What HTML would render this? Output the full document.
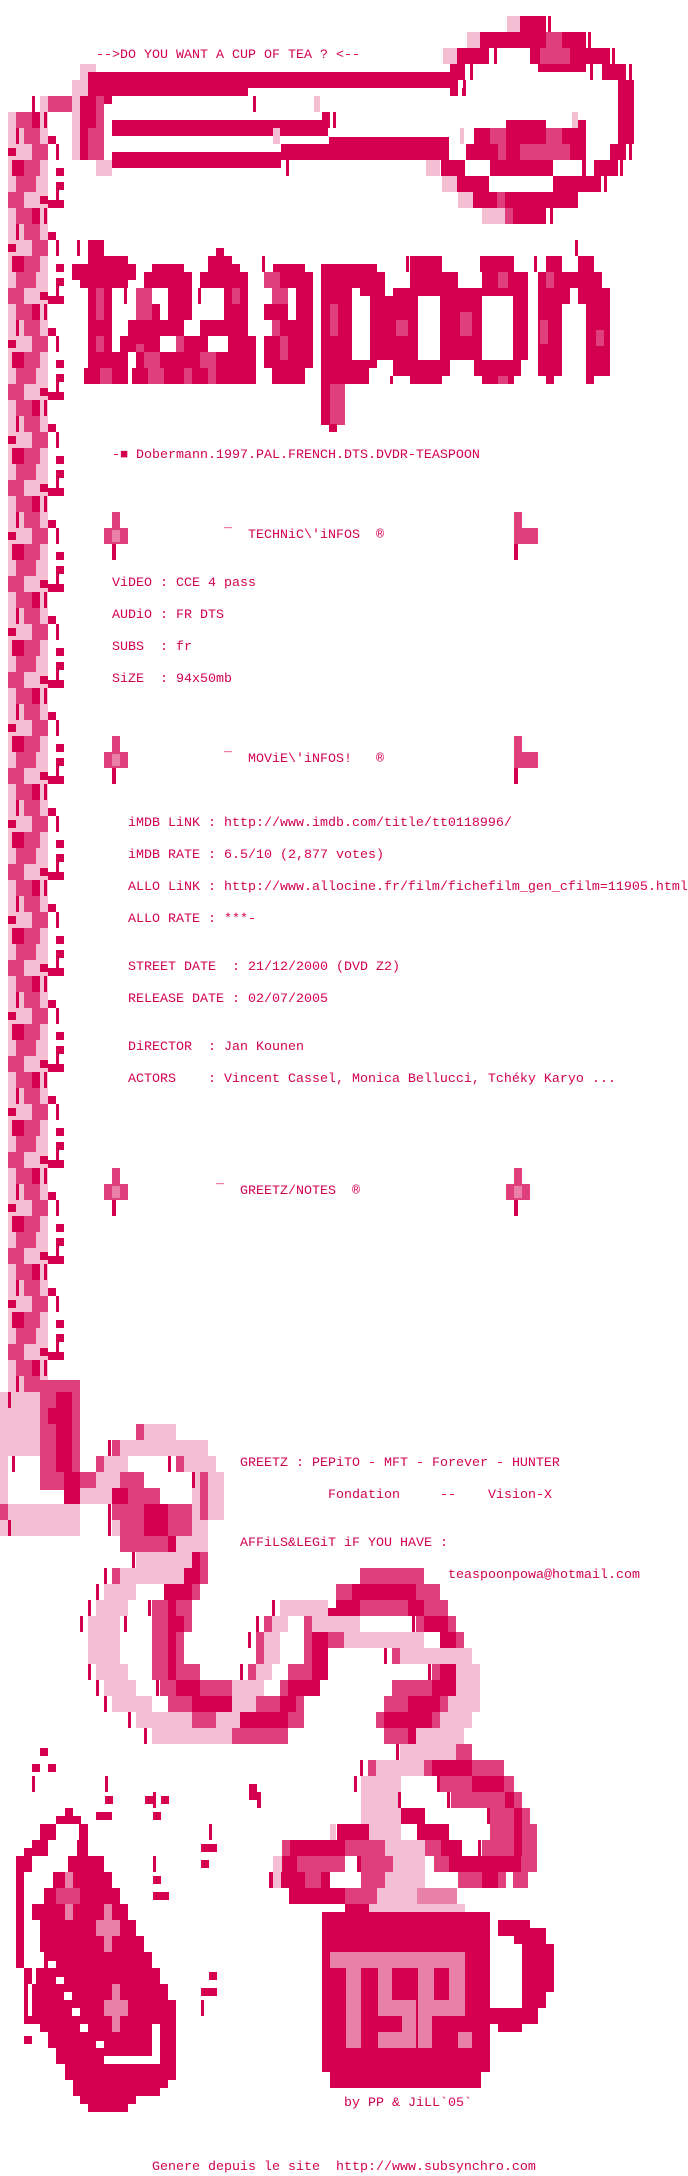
<!DOCTYPE html>
<html><head><meta charset="utf-8">
<style>
html,body{margin:0;padding:0;background:#fff}
#w{position:relative;width:688px;height:2176px;overflow:hidden;background:#fff}
svg{position:absolute;left:0;top:0}
.s{fill:#d4004f}.d{fill:#df407b}.m{fill:#e980a7}.l{fill:#f4bfd3}.w{fill:#fff}
.t{position:absolute;font-family:"Liberation Mono","DejaVu Sans Mono",monospace;font-size:13.33px;line-height:16px;color:#d4004f;white-space:pre}
</style></head><body><div id="w">
<svg width="688" height="2176" viewBox="0 0 688 2176" shape-rendering="crispEdges">
<defs>
<pattern id="str" patternUnits="userSpaceOnUse" x="0" y="64" width="64" height="96">
<rect class="l" x="8" y="0" width="40" height="96"/>
<rect class="s" x="12" y="0" width="12" height="16"/>
<rect class="d" x="24" y="0" width="16" height="16"/>
<rect class="d" x="16" y="16" width="20" height="16"/>
<rect class="d" x="8" y="32" width="16" height="16"/>
<rect class="s" x="40" y="36" width="8" height="8"/>
<rect class="d" x="16" y="48" width="16" height="16"/>
<rect class="s" x="32" y="48" width="8" height="16"/>
<rect class="s" x="44" y="48" width="3" height="16"/>
<rect class="s" x="16" y="64" width="3" height="16"/>
<rect class="d" x="24" y="64" width="16" height="16"/>
<rect class="s" x="48" y="72" width="8" height="8"/>
<rect class="s" x="8" y="84" width="8" height="8"/>
<rect class="d" x="32" y="80" width="16" height="16"/>
<rect class="s" x="56" y="80" width="3" height="16"/>
<rect class="s" x="56" y="8" width="8" height="8"/>
<rect class="s" x="56" y="22" width="8" height="8"/>
<rect class="s" x="48" y="40" width="16" height="8"/>
<rect class="s" x="56" y="30" width="3" height="14"/>
</pattern>
</defs>
<rect fill="url(#str)" x="0" y="112" width="64" height="1280"/>

<!-- spoon handle -->
<rect class="l" x="80" y="64" width="16" height="16"/><rect class="l" x="72" y="80" width="16" height="16"/>
<rect class="s" x="88" y="72" width="368" height="16"/><rect class="s" x="88" y="88" width="160" height="8"/>
<rect class="s" x="450" y="88" width="8" height="8"/><rect class="s" x="462" y="88" width="3" height="8"/>
<rect class="l" x="72" y="96" width="8" height="64"/><rect class="s" x="80" y="96" width="24" height="64"/>
<rect class="d" x="96" y="96" width="8" height="32"/><rect class="d" x="88" y="128" width="16" height="32"/>
<rect class="s" x="104" y="96" width="8" height="8"/><rect class="l" x="96" y="160" width="16" height="16"/>
<rect class="d" x="48" y="96" width="24" height="16"/><rect class="l" x="40" y="96" width="8" height="16"/><rect class="s" x="32" y="96" width="3" height="16"/>
<rect class="s" x="112" y="120" width="216" height="16"/><rect class="s" x="322" y="112" width="8" height="16"/><rect class="s" x="333" y="112" width="3" height="16"/>
<rect class="s" x="281" y="128" width="40" height="8"/><rect class="s" x="253" y="96" width="3" height="16"/><rect class="l" x="314" y="96" width="6" height="16"/><rect class="l" x="273" y="128" width="7" height="16"/>
<rect class="s" x="329" y="137" width="120" height="8"/><rect class="s" x="281" y="144" width="168" height="16"/><rect class="s" x="112" y="152" width="169" height="16"/><rect class="s" x="286" y="160" width="3" height="16"/>
<!-- bowl -->
<rect class="l" x="507" y="16" width="13" height="16"/><rect class="s" x="520" y="16" width="26" height="16"/><rect class="s" x="548" y="16" width="3" height="16"/>
<rect class="l" x="467" y="32" width="13" height="16"/><rect class="s" x="480" y="32" width="66" height="16"/><rect class="d" x="546" y="32" width="16" height="16"/><rect class="s" x="562" y="32" width="24" height="16"/><rect class="s" x="588" y="32" width="3" height="16"/>
<rect class="l" x="443" y="48" width="14" height="16"/><rect class="s" x="457" y="48" width="32" height="16"/><rect class="s" x="494" y="48" width="3" height="16"/><rect class="s" x="530" y="48" width="10" height="16"/><rect class="d" x="540" y="48" width="30" height="16"/><rect class="s" x="570" y="48" width="40" height="16"/><rect class="s" x="612" y="48" width="3" height="16"/>
<rect class="s" x="450" y="64" width="15" height="16"/><rect class="s" x="470" y="64" width="3" height="16"/><rect class="s" x="538" y="64" width="48" height="8"/><rect class="s" x="590" y="64" width="3" height="16"/><rect class="s" x="602" y="64" width="24" height="16"/><rect class="s" x="629" y="64" width="3" height="16"/>
<rect class="s" x="450" y="80" width="8" height="8"/><rect class="s" x="463" y="80" width="3" height="16"/><rect class="s" x="618" y="80" width="16" height="64"/>
<rect class="l" x="572" y="112" width="6" height="16"/><rect class="s" x="578" y="120" width="8" height="8"/><rect class="s" x="506" y="120" width="40" height="8"/>
<rect class="l" x="460" y="128" width="4" height="16"/><rect class="s" x="474" y="128" width="16" height="16"/><rect class="d" x="490" y="128" width="16" height="16"/><rect class="s" x="506" y="128" width="40" height="16"/><rect class="d" x="546" y="128" width="16" height="16"/><rect class="s" x="562" y="128" width="24" height="16"/>
<rect class="s" x="466" y="144" width="32" height="16"/><rect class="d" x="498" y="144" width="8" height="16"/><rect class="s" x="506" y="144" width="14" height="16"/><rect class="d" x="520" y="144" width="50" height="16"/><rect class="s" x="570" y="144" width="16" height="16"/><rect class="s" x="610" y="144" width="16" height="16"/><rect class="s" x="629" y="144" width="3" height="16"/>
<rect class="l" x="426" y="160" width="14" height="16"/><rect class="s" x="441" y="160" width="24" height="16"/><rect class="s" x="490" y="160" width="63" height="16"/><rect class="s" x="582" y="160" width="4" height="16"/><rect class="s" x="594" y="160" width="24" height="16"/><rect class="s" x="620" y="160" width="3" height="16"/>
<rect class="l" x="442" y="176" width="15" height="16"/><rect class="s" x="457" y="176" width="32" height="16"/><rect class="s" x="553" y="176" width="48" height="16"/><rect class="s" x="604" y="176" width="3" height="16"/>
<rect class="l" x="458" y="192" width="15" height="16"/><rect class="s" x="473" y="192" width="24" height="16"/><rect class="d" x="497" y="192" width="8" height="16"/><rect class="s" x="505" y="192" width="73" height="16"/>
<rect class="l" x="482" y="208" width="23" height="16"/><rect class="d" x="505" y="208" width="8" height="16"/><rect class="s" x="513" y="208" width="33" height="16"/><rect class="s" x="550" y="208" width="3" height="16"/>

<!-- logo t -->
<rect class="s" x="77" y="240" width="3" height="16"/><rect class="s" x="88" y="240" width="16" height="16"/><rect class="s" x="88" y="256" width="40" height="8"/><rect class="s" x="72" y="264" width="64" height="16"/><rect class="s" x="80" y="280" width="48" height="8"/><rect class="s" x="88" y="288" width="24" height="80"/><rect class="d" x="96" y="288" width="8" height="32"/><rect class="s" x="124" y="288" width="3" height="16"/><rect class="s" x="88" y="352" width="40" height="16"/><rect class="s" x="84" y="368" width="44" height="16"/><rect class="d" x="96" y="336" width="8" height="16"/><rect class="d" x="100" y="368" width="12" height="16"/>
<!-- e -->
<rect class="s" x="152" y="264" width="32" height="8"/><rect class="s" x="144" y="272" width="48" height="16"/><rect class="d" x="136" y="288" width="16" height="32"/><rect class="s" x="168" y="288" width="24" height="32"/><rect class="s" x="152" y="304" width="8" height="16"/><rect class="s" x="128" y="320" width="56" height="16"/><rect class="s" x="120" y="336" width="40" height="16"/><rect class="d" x="136" y="344" width="8" height="8"/><rect class="s" x="136" y="352" width="24" height="16"/><rect class="d" x="144" y="352" width="16" height="16"/><rect class="s" x="160" y="352" width="24" height="16"/><rect class="s" x="132" y="368" width="52" height="16"/><rect class="d" x="148" y="368" width="16" height="16"/>
<!-- a -->
<rect class="s" x="216" y="248" width="8" height="8"/><rect class="s" x="208" y="256" width="24" height="8"/><rect class="s" x="208" y="264" width="32" height="8"/><rect class="s" x="200" y="272" width="48" height="16"/><rect class="s" x="198" y="288" width="3" height="16"/><rect class="s" x="224" y="288" width="24" height="32"/><rect class="d" x="232" y="288" width="8" height="16"/><rect class="s" x="200" y="320" width="48" height="16"/><rect class="d" x="176" y="336" width="8" height="16"/><rect class="s" x="184" y="336" width="24" height="16"/><rect class="s" x="228" y="336" width="28" height="16"/><rect class="s" x="184" y="352" width="72" height="16"/><rect class="d" x="200" y="352" width="16" height="16"/><rect class="d" x="184" y="368" width="8" height="16"/><rect class="s" x="192" y="368" width="64" height="16"/><rect class="d" x="208" y="368" width="8" height="16"/>
<!-- s -->
<rect class="s" x="262" y="256" width="3" height="16"/><rect class="s" x="273" y="264" width="32" height="8"/><rect class="d" x="264" y="272" width="16" height="16"/><rect class="s" x="280" y="272" width="33" height="16"/><rect class="d" x="272" y="288" width="16" height="16"/><rect class="s" x="296" y="288" width="17" height="32"/><rect class="s" x="264" y="304" width="24" height="16"/><rect class="s" x="280" y="320" width="33" height="16"/><rect class="d" x="272" y="320" width="8" height="16"/><rect class="s" x="264" y="336" width="49" height="32"/><rect class="d" x="280" y="336" width="8" height="24"/><rect class="s" x="272" y="368" width="33" height="16"/>
<!-- p -->
<rect class="s" x="321" y="264" width="56" height="8"/><rect class="s" x="321" y="272" width="64" height="16"/><rect class="s" x="321" y="288" width="31" height="72"/><rect class="s" x="360" y="288" width="25" height="8"/><rect class="s" x="370" y="296" width="15" height="64"/><rect class="s" x="321" y="360" width="56" height="8"/><rect class="s" x="321" y="368" width="48" height="16"/><rect class="s" x="321" y="384" width="24" height="41"/><rect class="d" x="330" y="384" width="15" height="41"/><rect class="d" x="330" y="304" width="8" height="32"/><rect class="s" x="329" y="424" width="8" height="8"/>
<!-- o -->
<rect class="s" x="406" y="256" width="3" height="16"/><rect class="s" x="410" y="256" width="32" height="16"/><rect class="s" x="410" y="272" width="48" height="16"/><rect class="s" x="393" y="288" width="65" height="8"/><rect class="s" x="385" y="296" width="33" height="64"/><rect class="s" x="440" y="296" width="18" height="64"/><rect class="s" x="393" y="360" width="57" height="16"/><rect class="s" x="410" y="376" width="32" height="8"/><rect class="d" x="396" y="320" width="12" height="16"/><rect class="s" x="390" y="376" width="3" height="8"/>
<!-- o -->
<rect class="s" x="490" y="256" width="3" height="16"/><rect class="s" x="480" y="256" width="34" height="16"/><rect class="s" x="482" y="272" width="46" height="16"/><rect class="d" x="498" y="272" width="10" height="16"/><rect class="s" x="458" y="288" width="70" height="8"/><rect class="s" x="458" y="296" width="24" height="64"/><rect class="d" x="460" y="312" width="12" height="24"/><rect class="s" x="513" y="296" width="15" height="64"/><rect class="s" x="474" y="360" width="47" height="16"/><rect class="s" x="482" y="376" width="32" height="8"/><rect class="d" x="498" y="376" width="10" height="8"/>
<!-- n -->
<rect class="s" x="534" y="256" width="3" height="16"/><rect class="s" x="546" y="256" width="16" height="16"/><rect class="s" x="578" y="256" width="16" height="16"/><rect class="s" x="575" y="240" width="3" height="16"/><rect class="s" x="538" y="272" width="64" height="16"/><rect class="d" x="546" y="272" width="8" height="16"/><rect class="s" x="538" y="288" width="32" height="16"/><rect class="s" x="578" y="288" width="32" height="16"/><rect class="s" x="538" y="304" width="24" height="72"/><rect class="d" x="540" y="320" width="8" height="24"/><rect class="s" x="586" y="304" width="24" height="72"/><rect class="d" x="596" y="330" width="8" height="16"/><rect class="s" x="546" y="376" width="8" height="8"/><rect class="s" x="586" y="376" width="8" height="8"/>

<!-- header crosses -->
<rect class="d" x="112" y="512" width="8" height="16"/><rect class="d" x="104" y="528" width="24" height="16"/><rect class="m" x="112" y="530" width="8" height="12"/><rect class="s" x="112" y="544" width="4" height="16"/>
<rect class="d" x="514" y="512" width="8" height="16"/><rect class="d" x="514" y="528" width="24" height="16"/><rect class="s" x="514" y="544" width="4" height="16"/>
<rect class="d" x="112" y="736" width="8" height="16"/><rect class="d" x="104" y="752" width="24" height="16"/><rect class="m" x="112" y="754" width="8" height="12"/><rect class="s" x="112" y="768" width="4" height="16"/>
<rect class="d" x="514" y="736" width="8" height="16"/><rect class="d" x="514" y="752" width="24" height="16"/><rect class="s" x="514" y="768" width="4" height="16"/>
<rect class="d" x="112" y="1168" width="8" height="16"/><rect class="d" x="104" y="1184" width="24" height="16"/><rect class="m" x="112" y="1186" width="8" height="12"/><rect class="s" x="112" y="1200" width="4" height="16"/>
<rect class="d" x="514" y="1168" width="8" height="16"/><rect class="d" x="506" y="1184" width="24" height="16"/><rect class="m" x="514" y="1186" width="8" height="12"/><rect class="s" x="514" y="1200" width="4" height="16"/>

<!-- C -->
<rect class="l" x="0" y="1392" width="40" height="144"/><rect class="d" x="40" y="1380" width="40" height="110"/><rect class="s" x="56" y="1392" width="16" height="80"/><rect class="s" x="48" y="1408" width="16" height="16"/><rect class="s" x="8" y="1392" width="3" height="16"/>
<rect class="w" x="8" y="1456" width="32" height="48"/><rect class="s" x="12" y="1456" width="3" height="16"/>
<rect class="d" x="40" y="1472" width="56" height="16"/><rect class="s" x="64" y="1472" width="16" height="32"/>
<rect class="l" x="0" y="1504" width="80" height="16"/><rect class="d" x="0" y="1504" width="8" height="16"/>
<rect class="s" x="8" y="1520" width="3" height="16"/><rect class="l" x="16" y="1520" width="64" height="16"/>
<!-- U top -->
<rect class="l" x="136" y="1424" width="40" height="16"/><rect class="d" x="136" y="1424" width="8" height="16"/>
<rect class="s" x="108" y="1440" width="3" height="16"/><rect class="l" x="112" y="1440" width="96" height="16"/><rect class="d" x="112" y="1440" width="8" height="16"/>
<rect class="l" x="96" y="1456" width="32" height="16"/><rect class="d" x="96" y="1456" width="8" height="16"/><rect class="l" x="176" y="1456" width="40" height="16"/><rect class="s" x="168" y="1456" width="3" height="16"/><rect class="d" x="176" y="1456" width="8" height="16"/>
<rect class="l" x="192" y="1472" width="32" height="48"/><rect class="d" x="200" y="1472" width="8" height="48"/><rect class="s" x="192" y="1472" width="3" height="16"/>
<rect class="l" x="96" y="1472" width="24" height="16"/><rect class="d" x="120" y="1472" width="24" height="16"/>
<rect class="l" x="80" y="1488" width="32" height="16"/><rect class="s" x="112" y="1488" width="16" height="16"/><rect class="d" x="128" y="1488" width="32" height="16"/>
<rect class="s" x="108" y="1504" width="3" height="16"/><rect class="d" x="112" y="1504" width="32" height="16"/><rect class="s" x="144" y="1504" width="24" height="16"/><rect class="d" x="168" y="1504" width="24" height="16"/>
<rect class="s" x="108" y="1520" width="3" height="16"/><rect class="l" x="112" y="1520" width="8" height="16"/><rect class="d" x="120" y="1520" width="24" height="16"/><rect class="s" x="144" y="1520" width="24" height="16"/><rect class="d" x="168" y="1520" width="24" height="16"/><rect class="l" x="192" y="1520" width="16" height="16"/>
<rect class="d" x="120" y="1536" width="48" height="16"/><rect class="s" x="168" y="1536" width="8" height="16"/><rect class="l" x="176" y="1536" width="32" height="16"/>
<rect class="s" x="132" y="1552" width="3" height="16"/><rect class="l" x="136" y="1552" width="56" height="16"/><rect class="s" x="192" y="1552" width="16" height="16"/><rect class="d" x="200" y="1552" width="8" height="16"/>
<rect class="s" x="104" y="1568" width="3" height="16"/><rect class="d" x="112" y="1568" width="8" height="16"/><rect class="l" x="120" y="1568" width="64" height="16"/><rect class="s" x="184" y="1568" width="16" height="16"/><rect class="d" x="200" y="1568" width="8" height="16"/>
<!-- U bottom -->
<rect class="s" x="96" y="1584" width="3" height="16"/><rect class="l" x="104" y="1584" width="32" height="16"/><rect class="s" x="164" y="1584" width="28" height="16"/><rect class="d" x="192" y="1584" width="8" height="16"/>
<rect class="s" x="88" y="1600" width="3" height="16"/><rect class="l" x="96" y="1600" width="32" height="16"/><rect class="s" x="148" y="1600" width="3" height="16"/><rect class="d" x="152" y="1600" width="16" height="16"/><rect class="s" x="168" y="1600" width="8" height="16"/><rect class="d" x="176" y="1600" width="16" height="16"/>
<rect class="s" x="80" y="1616" width="3" height="16"/><rect class="l" x="88" y="1616" width="32" height="16"/><rect class="s" x="124" y="1616" width="3" height="16"/><rect class="d" x="152" y="1616" width="16" height="16"/><rect class="s" x="168" y="1616" width="16" height="16"/><rect class="d" x="184" y="1616" width="8" height="16"/>
<rect class="l" x="88" y="1632" width="32" height="32"/><rect class="d" x="152" y="1632" width="16" height="32"/><rect class="s" x="168" y="1632" width="8" height="32"/><rect class="d" x="176" y="1632" width="8" height="32"/>
<rect class="s" x="88" y="1664" width="3" height="16"/><rect class="l" x="96" y="1664" width="32" height="16"/><rect class="d" x="152" y="1664" width="16" height="16"/><rect class="s" x="168" y="1664" width="8" height="16"/><rect class="d" x="176" y="1664" width="24" height="16"/>
<rect class="s" x="96" y="1680" width="3" height="16"/><rect class="l" x="104" y="1680" width="32" height="16"/><rect class="s" x="156" y="1680" width="3" height="16"/><rect class="d" x="160" y="1680" width="16" height="16"/><rect class="s" x="176" y="1680" width="24" height="16"/><rect class="d" x="200" y="1680" width="32" height="16"/><rect class="l" x="232" y="1680" width="32" height="16"/>
<rect class="s" x="104" y="1696" width="3" height="16"/><rect class="l" x="112" y="1696" width="40" height="16"/><rect class="d" x="168" y="1696" width="24" height="16"/><rect class="s" x="192" y="1696" width="40" height="16"/><rect class="l" x="232" y="1696" width="24" height="16"/><rect class="d" x="256" y="1696" width="24" height="16"/><rect class="s" x="280" y="1696" width="16" height="16"/><rect class="d" x="296" y="1696" width="8" height="16"/>
<rect class="s" x="128" y="1712" width="3" height="16"/><rect class="l" x="136" y="1712" width="56" height="16"/><rect class="d" x="192" y="1712" width="24" height="16"/><rect class="l" x="216" y="1712" width="24" height="16"/><rect class="s" x="240" y="1712" width="48" height="16"/><rect class="d" x="288" y="1712" width="16" height="16"/>
<rect class="s" x="144" y="1728" width="3" height="16"/><rect class="l" x="152" y="1728" width="80" height="16"/><rect class="d" x="232" y="1728" width="56" height="16"/>
<!-- P -->
<rect class="d" x="360" y="1568" width="64" height="16"/>
<rect class="d" x="336" y="1584" width="16" height="16"/><rect class="s" x="352" y="1584" width="64" height="16"/><rect class="d" x="416" y="1584" width="24" height="16"/>
<rect class="s" x="272" y="1600" width="3" height="16"/><rect class="l" x="280" y="1600" width="48" height="16"/><rect class="s" x="328" y="1608" width="8" height="8"/><rect class="s" x="336" y="1600" width="24" height="16"/><rect class="d" x="360" y="1600" width="48" height="16"/><rect class="s" x="408" y="1600" width="16" height="16"/><rect class="d" x="424" y="1600" width="24" height="16"/>
<rect class="s" x="256" y="1616" width="3" height="16"/><rect class="d" x="264" y="1616" width="8" height="16"/><rect class="l" x="272" y="1616" width="16" height="16"/><rect class="d" x="304" y="1616" width="8" height="16"/><rect class="l" x="312" y="1616" width="48" height="16"/><rect class="s" x="412" y="1616" width="3" height="16"/><rect class="d" x="416" y="1616" width="8" height="16"/><rect class="s" x="424" y="1616" width="24" height="16"/><rect class="d" x="448" y="1616" width="8" height="16"/>
<rect class="s" x="248" y="1632" width="3" height="16"/><rect class="d" x="256" y="1632" width="8" height="16"/><rect class="l" x="264" y="1632" width="16" height="16"/><rect class="d" x="304" y="1632" width="8" height="16"/><rect class="s" x="312" y="1632" width="16" height="16"/><rect class="d" x="328" y="1632" width="16" height="16"/><rect class="l" x="344" y="1632" width="80" height="16"/><rect class="s" x="440" y="1632" width="16" height="16"/><rect class="d" x="456" y="1632" width="8" height="16"/>
<rect class="d" x="256" y="1648" width="8" height="16"/><rect class="l" x="264" y="1648" width="16" height="16"/><rect class="d" x="304" y="1648" width="8" height="16"/><rect class="s" x="312" y="1648" width="16" height="16"/><rect class="s" x="384" y="1648" width="3" height="16"/><rect class="d" x="392" y="1648" width="8" height="16"/><rect class="l" x="400" y="1648" width="72" height="16"/>
<rect class="s" x="240" y="1664" width="3" height="16"/><rect class="d" x="248" y="1664" width="8" height="16"/><rect class="l" x="256" y="1664" width="16" height="16"/><rect class="d" x="288" y="1664" width="24" height="16"/><rect class="s" x="312" y="1664" width="16" height="16"/><rect class="s" x="428" y="1664" width="3" height="16"/><rect class="d" x="432" y="1664" width="8" height="16"/><rect class="s" x="440" y="1664" width="16" height="16"/><rect class="l" x="456" y="1664" width="24" height="16"/>
<rect class="d" x="280" y="1680" width="8" height="16"/><rect class="s" x="288" y="1680" width="32" height="16"/><rect class="d" x="392" y="1680" width="40" height="16"/><rect class="s" x="432" y="1680" width="24" height="16"/><rect class="l" x="456" y="1680" width="24" height="16"/>
<rect class="d" x="384" y="1696" width="24" height="16"/><rect class="s" x="408" y="1696" width="32" height="16"/><rect class="d" x="440" y="1696" width="8" height="16"/><rect class="l" x="448" y="1696" width="32" height="16"/>
<rect class="d" x="376" y="1712" width="8" height="16"/><rect class="s" x="384" y="1712" width="48" height="16"/><rect class="d" x="432" y="1712" width="8" height="16"/><rect class="l" x="440" y="1712" width="32" height="16"/>
<rect class="d" x="384" y="1728" width="24" height="16"/><rect class="s" x="408" y="1728" width="8" height="16"/><rect class="l" x="416" y="1728" width="48" height="16"/>
<rect class="s" x="396" y="1744" width="3" height="16"/><rect class="l" x="400" y="1744" width="56" height="16"/><rect class="d" x="456" y="1744" width="16" height="16"/>
<rect class="s" x="360" y="1760" width="3" height="16"/><rect class="d" x="368" y="1760" width="8" height="16"/><rect class="l" x="376" y="1760" width="48" height="16"/><rect class="d" x="424" y="1760" width="8" height="16"/><rect class="s" x="432" y="1760" width="40" height="16"/><rect class="d" x="472" y="1760" width="32" height="16"/>
<!-- steam -->
<rect class="s" x="354" y="1776" width="3" height="16"/><rect class="l" x="361" y="1776" width="40" height="16"/><rect class="s" x="437" y="1776" width="3" height="16"/><rect class="d" x="440" y="1776" width="32" height="16"/><rect class="s" x="472" y="1776" width="32" height="16"/><rect class="d" x="504" y="1776" width="10" height="16"/>
<rect class="l" x="361" y="1792" width="40" height="16"/><rect class="s" x="398" y="1792" width="3" height="16"/><rect class="s" x="447" y="1792" width="3" height="16"/><rect class="d" x="451" y="1792" width="54" height="16"/><rect class="s" x="505" y="1792" width="9" height="16"/><rect class="d" x="514" y="1792" width="8" height="16"/>
<rect class="l" x="361" y="1808" width="40" height="16"/><rect class="s" x="401" y="1808" width="24" height="16"/><rect class="s" x="487" y="1808" width="3" height="16"/><rect class="d" x="490" y="1808" width="24" height="16"/><rect class="s" x="514" y="1808" width="8" height="16"/><rect class="d" x="522" y="1808" width="8" height="16"/>
<rect class="l" x="330" y="1824" width="6" height="16"/><rect class="s" x="337" y="1824" width="32" height="16"/><rect class="l" x="369" y="1824" width="32" height="16"/><rect class="s" x="417" y="1824" width="32" height="16"/><rect class="d" x="490" y="1824" width="24" height="16"/><rect class="s" x="514" y="1824" width="8" height="16"/><rect class="d" x="522" y="1824" width="15" height="16"/>
<rect class="d" x="282" y="1840" width="8" height="16"/><rect class="s" x="290" y="1840" width="55" height="16"/><rect class="d" x="345" y="1840" width="40" height="16"/><rect class="l" x="385" y="1840" width="40" height="16"/><rect class="d" x="425" y="1840" width="16" height="16"/><rect class="s" x="441" y="1840" width="21" height="16"/><rect class="s" x="478" y="1840" width="3" height="16"/><rect class="d" x="482" y="1840" width="32" height="16"/><rect class="s" x="514" y="1840" width="8" height="16"/><rect class="d" x="522" y="1840" width="15" height="16"/>
<rect class="l" x="273" y="1856" width="9" height="16"/><rect class="s" x="282" y="1856" width="16" height="16"/><rect class="d" x="297" y="1856" width="48" height="16"/><rect class="s" x="357" y="1856" width="4" height="16"/><rect class="d" x="361" y="1856" width="32" height="16"/><rect class="l" x="393" y="1856" width="32" height="16"/><rect class="d" x="434" y="1856" width="16" height="16"/><rect class="s" x="449" y="1856" width="72" height="16"/><rect class="d" x="521" y="1856" width="16" height="16"/>
<rect class="s" x="269" y="1872" width="4" height="16"/><rect class="l" x="273" y="1872" width="8" height="16"/><rect class="s" x="281" y="1872" width="24" height="16"/><rect class="d" x="305" y="1872" width="16" height="16"/><rect class="s" x="321" y="1872" width="9" height="16"/><rect class="d" x="361" y="1872" width="24" height="16"/><rect class="l" x="385" y="1872" width="40" height="16"/><rect class="d" x="458" y="1872" width="24" height="16"/><rect class="s" x="482" y="1872" width="16" height="16"/><rect class="d" x="498" y="1872" width="8" height="16"/><rect class="d" x="513" y="1872" width="15" height="16"/>
<rect class="s" x="289" y="1888" width="56" height="16"/><rect class="d" x="345" y="1888" width="32" height="16"/><rect class="l" x="377" y="1888" width="40" height="16"/><rect class="m" x="417" y="1888" width="40" height="16"/>
<rect class="s" x="345" y="1904" width="24" height="8"/><rect class="l" x="369" y="1904" width="96" height="8"/>
<!-- mug -->
<rect class="s" x="322" y="1912" width="168" height="160"/><rect class="s" x="330" y="2072" width="151" height="16"/>
<rect class="s" x="498" y="1920" width="32" height="8"/><rect class="s" x="498" y="1928" width="48" height="8"/><rect class="s" x="514" y="1936" width="32" height="8"/><rect class="s" x="522" y="1944" width="32" height="48"/><rect class="s" x="522" y="1992" width="24" height="16"/><rect class="s" x="490" y="2008" width="48" height="16"/><rect class="s" x="498" y="2024" width="24" height="8"/>
<rect class="m" x="330" y="1952" width="135" height="16"/><rect class="m" x="346" y="1968" width="15" height="80"/><rect class="m" x="378" y="1968" width="38" height="80"/><rect class="s" x="392" y="1968" width="24" height="32"/><rect class="s" x="378" y="2016" width="24" height="16"/><rect class="m" x="418" y="1968" width="47" height="48"/><rect class="s" x="434" y="1968" width="15" height="32"/><rect class="m" x="418" y="2016" width="14" height="32"/><rect class="m" x="458" y="2032" width="14" height="16"/>
<!-- scattered -->
<rect class="s" x="40" y="1748" width="8" height="8"/><rect class="s" x="32" y="1764" width="8" height="8"/><rect class="s" x="48" y="1764" width="8" height="8"/>
<rect class="s" x="32" y="1776" width="3" height="16"/><rect class="s" x="105" y="1776" width="3" height="16"/>
<rect class="s" x="105" y="1796" width="8" height="8"/><rect class="s" x="145" y="1796" width="8" height="8"/><rect class="s" x="161" y="1796" width="8" height="8"/><rect class="s" x="153" y="1792" width="3" height="16"/>
<rect class="s" x="249" y="1784" width="8" height="16"/><rect class="s" x="257" y="1792" width="4" height="16"/>
<rect class="s" x="96" y="1812" width="16" height="8"/><rect class="s" x="153" y="1812" width="8" height="8"/>
<rect class="s" x="209" y="1824" width="3" height="16"/><rect class="s" x="201" y="1844" width="16" height="8"/><rect class="s" x="153" y="1856" width="3" height="16"/><rect class="s" x="201" y="1860" width="8" height="8"/><rect class="s" x="153" y="1876" width="8" height="8"/><rect class="s" x="153" y="1892" width="16" height="8"/>
<rect class="s" x="209" y="1972" width="8" height="8"/><rect class="s" x="201" y="1988" width="16" height="8"/><rect class="s" x="201" y="2000" width="3" height="16"/>
<!-- flame -->
<rect class="s" x="65" y="1808" width="8" height="8"/><rect class="s" x="56" y="1816" width="25" height="8"/><rect class="s" x="40" y="1824" width="16" height="16"/><rect class="s" x="79" y="1824" width="9" height="16"/><rect class="s" x="32" y="1840" width="16" height="8"/><rect class="s" x="24" y="1848" width="24" height="8"/><rect class="s" x="77" y="1840" width="11" height="16"/><rect class="s" x="16" y="1856" width="16" height="16"/><rect class="s" x="68" y="1856" width="36" height="16"/><rect class="s" x="16" y="1872" width="8" height="96"/><rect class="s" x="53" y="1872" width="59" height="16"/><rect class="s" x="44" y="1888" width="76" height="16"/><rect class="s" x="32" y="1904" width="96" height="16"/><rect class="s" x="40" y="1920" width="96" height="16"/><rect class="s" x="40" y="1936" width="104" height="16"/><rect class="s" x="44" y="1952" width="108" height="16"/><rect class="s" x="24" y="1968" width="8" height="16"/><rect class="s" x="36" y="1968" width="124" height="16"/><rect class="s" x="24" y="1984" width="4" height="16"/><rect class="s" x="32" y="1984" width="136" height="16"/><rect class="s" x="24" y="2000" width="4" height="16"/><rect class="s" x="32" y="2000" width="144" height="16"/><rect class="s" x="24" y="2016" width="16" height="8"/><rect class="s" x="40" y="2016" width="136" height="16"/><rect class="s" x="24" y="2036" width="8" height="8"/><rect class="s" x="48" y="2032" width="128" height="16"/><rect class="s" x="56" y="2048" width="120" height="16"/><rect class="s" x="65" y="2064" width="111" height="16"/><rect class="s" x="73" y="2080" width="95" height="8"/><rect class="s" x="73" y="2088" width="87" height="8"/><rect class="s" x="80" y="2096" width="56" height="8"/><rect class="s" x="88" y="2104" width="40" height="8"/>
<rect class="w" x="48" y="1961" width="8" height="7"/><rect class="w" x="56" y="1977" width="8" height="7"/><rect class="w" x="64" y="1992" width="8" height="8"/><rect class="w" x="72" y="2008" width="8" height="8"/><rect class="w" x="80" y="2024" width="8" height="8"/><rect class="w" x="96" y="2041" width="8" height="7"/><rect class="w" x="152" y="2024" width="8" height="40"/><rect class="w" x="104" y="2056" width="56" height="8"/>
<rect class="m" x="65" y="1872" width="8" height="48"/><rect class="d" x="56" y="1888" width="24" height="16"/><rect class="m" x="104" y="1904" width="8" height="48"/><rect class="m" x="96" y="1920" width="24" height="16"/><rect class="m" x="112" y="1984" width="8" height="48"/><rect class="m" x="104" y="2000" width="24" height="16"/>
</svg>

<div class="t" style="left:96px;top:48px">--&gt;DO YOU WANT A CUP OF TEA ? &lt;--</div>
<div class="t" style="left:112px;top:448px">-■ Dobermann.1997.PAL.FRENCH.DTS.DVDR-TEASPOON</div>
<div class="t" style="left:224px;top:528px">¯  TECHNiC\'iNFOS  ®</div>
<div class="t" style="left:112px;top:576px">ViDEO : CCE 4 pass</div>
<div class="t" style="left:112px;top:608px">AUDiO : FR DTS</div>
<div class="t" style="left:112px;top:640px">SUBS  : fr</div>
<div class="t" style="left:112px;top:672px">SiZE  : 94x50mb</div>
<div class="t" style="left:224px;top:752px">¯  MOViE\'iNFOS!   ®</div>
<div class="t" style="left:128px;top:816px">iMDB LiNK : http://www.imdb.com/title/tt0118996/</div>
<div class="t" style="left:128px;top:848px">iMDB RATE : 6.5/10 (2,877 votes)</div>
<div class="t" style="left:128px;top:880px">ALLO LiNK : http://www.allocine.fr/film/fichefilm_gen_cfilm=11905.html</div>
<div class="t" style="left:128px;top:912px">ALLO RATE : ***-</div>
<div class="t" style="left:128px;top:960px">STREET DATE  : 21/12/2000 (DVD Z2)</div>
<div class="t" style="left:128px;top:992px">RELEASE DATE : 02/07/2005</div>
<div class="t" style="left:128px;top:1040px">DiRECTOR  : Jan Kounen</div>
<div class="t" style="left:128px;top:1072px">ACTORS    : Vincent Cassel, Monica Bellucci, Tchéky Karyo ...</div>
<div class="t" style="left:216px;top:1184px">¯  GREETZ/NOTES  ®</div>
<div class="t" style="left:240px;top:1456px">GREETZ : PEPiTO - MFT - Forever - HUNTER</div>
<div class="t" style="left:328px;top:1488px">Fondation     --    Vision-X</div>
<div class="t" style="left:240px;top:1536px">AFFiLS&amp;LEGiT iF YOU HAVE :</div>
<div class="t" style="left:448px;top:1568px">teaspoonpowa@hotmail.com</div>
<div class="t" style="left:344px;top:2096px">by PP &amp; JiLL`05`</div>
<div class="t" style="left:152px;top:2160px">Genere depuis le site  http://www.subsynchro.com</div>
</div></body></html>
